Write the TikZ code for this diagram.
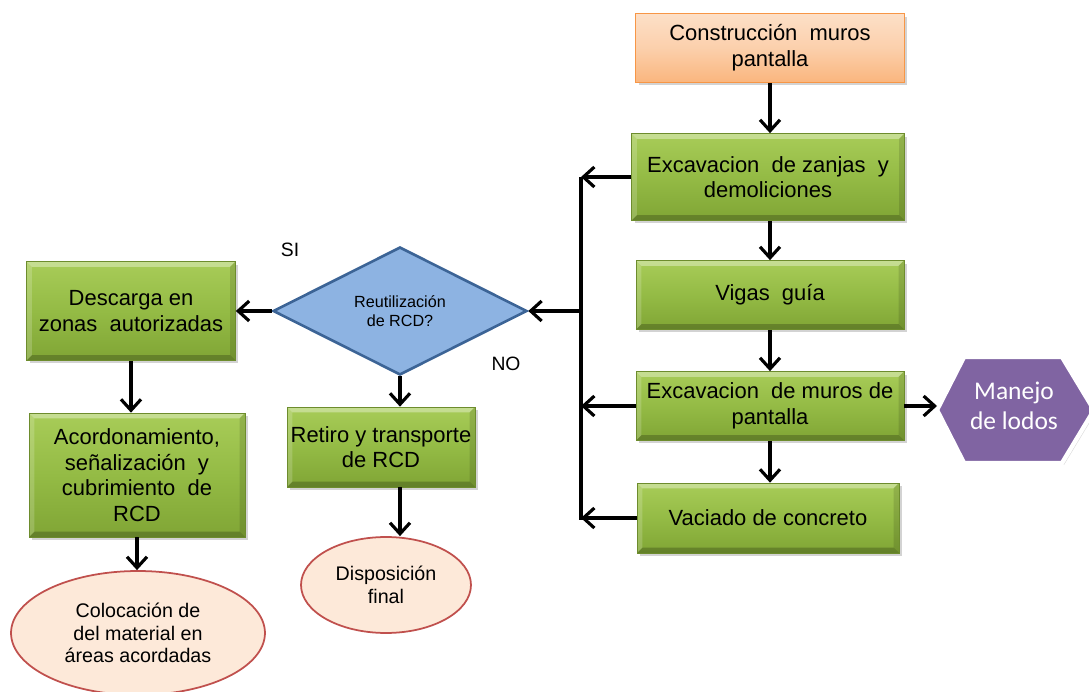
\documentclass[tikz,border=0pt]{standalone}
\usepackage{fontspec}
\setmainfont{Liberation Sans}
\newfontfamily\calibri{Carlito}
\usetikzlibrary{arrows.meta,shapes.geometric,shadows,calc}
\definecolor{verde}{HTML}{94BB45}
\definecolor{verdeclaro}{HTML}{A8CC58}
\definecolor{verdeosc}{HTML}{80A535}
\definecolor{naranja}{HTML}{F79646}
\definecolor{azul}{HTML}{8DB3E2}
\definecolor{azulosc}{HTML}{3C6496}
\definecolor{morado}{HTML}{8064A2}
\definecolor{rosa}{HTML}{FDE9D9}
\definecolor{rojo}{HTML}{C0504D}
% bisel de las cajas
\tikzset{bisel/.style={path picture={
	\path (path picture bounding box.north west) coordinate (nw) (path picture bounding box.south east) coordinate (se)
		(path picture bounding box.north east) coordinate (ne) (path picture bounding box.south west) coordinate (sw);
	\fill[white, opacity=0.35] (nw) -- (ne) -- ($(ne)+(-3pt,-3pt)$) -- ($(nw)+(3pt,-3pt)$) -- cycle;
	\fill[white, opacity=0.18] (nw) -- (sw) -- ($(sw)+(3pt,3pt)$) -- ($(nw)+(3pt,-3pt)$) -- cycle;
	\fill[black, opacity=0.22] (sw) -- (se) -- ($(se)+(-3pt,3pt)$) -- ($(sw)+(3pt,3pt)$) -- cycle;
	\fill[black, opacity=0.12] (se) -- (ne) -- ($(ne)+(-3pt,-3pt)$) -- ($(se)+(-3pt,3pt)$) -- cycle;
}}}
\begin{document}
\begin{tikzpicture}[x=0.02cm, y=-0.02cm, >={Straight Barb[length=2.2mm,width=4mm]},
	flecha/.style={->, line width=1.8pt},
	caja/.style={rectangle, draw=verdeosc!85!black, line width=0.4pt, top color=verdeclaro, bottom color=verdeosc, middle color=verde,
		bisel, drop shadow={opacity=0.35, shadow xshift=0.6mm, shadow yshift=-0.6mm},
		align=center, font=\fontsize{12.5}{14.6}\selectfont, inner sep=2pt},
	inicio/.style={caja, draw=naranja, line width=0.8pt, top color=naranja!30, bottom color=naranja!70, middle color=naranja!45, path picture={}},
	pregunta/.style={diamond, draw=azulosc, line width=1.5pt, fill=azul, inner sep=0pt, align=center,
		font=\fontsize{9.2}{10.4}\selectfont},
	fin/.style={ellipse, draw=rojo, line width=1pt, fill=rosa, inner sep=0pt, align=center,
		font=\fontsize{11.2}{12.7}\selectfont}]
	\useasboundingbox (0,0) rectangle (1089,692);
	% columna derecha
	\node[inicio, minimum width=5.38cm, minimum height=1.38cm] (cons) at (770,48) {Construcción\ \ muros\\pantalla};
	\node[caja, minimum width=5.46cm, minimum height=1.74cm] (zanjas) at (768,177) {Excavacion\ \ de zanjas\ \ y\\demoliciones};
	\node[caja, minimum width=5.36cm, minimum height=1.38cm] (vigas) at (770,295) {Vigas\ \ guía};
	\node[caja, minimum width=5.36cm, minimum height=1.38cm] (muros) at (770,406) {Excavacion\ \ de muros de\\pantalla};
	\node[caja, minimum width=5.24cm, minimum height=1.40cm] (vaciado) at (768,518) {Vaciado de concreto};
	% lodos
	\path (937,410) coordinate (hexL);
	\filldraw[morado, draw=white, line width=2.5pt, drop shadow={opacity=0.3, shadow xshift=0.4mm, shadow yshift=-0.4mm}]
		(hexL) -- (964,357) -- (1062,357) -- (1094,410) -- (1062,463) -- (964,463) -- cycle;
	\node[align=center, text=white, font=\calibri\fontsize{14.5}{17}\selectfont] (lodos) at (1014,406) {Manejo\\de lodos};
	% decision y ramas
	\node[pregunta, minimum width=5.08cm, minimum height=2.56cm] (reut) at (400,311) {Reutilización\\de RCD?};
	\node[caja, minimum width=4.18cm, minimum height=1.98cm] (desc) at (131,311) {Descarga en\\zonas\ \ autorizadas};
	\node[caja, minimum width=4.32cm, minimum height=2.48cm] (acor) at (137,475) {Acordonamiento,\\señalización\ \ y\\cubrimiento\ \ de\\RCD};
	\node[caja, minimum width=3.76cm, minimum height=1.60cm] (retiro) at (381,447) {Retiro y transporte\\de RCD};
	\node[fin, minimum width=3.40cm, minimum height=1.92cm] (disp) at (386,585) {Disposición\\final};
	\node[fin, minimum width=5.08cm, minimum height=2.48cm] (coloc) at (138,633) {Colocación de\\del material\ en\\áreas acordadas};
	\node[font=\fontsize{11}{13}\selectfont] (si) at (290,250) {SI};
	\node[font=\fontsize{11}{13}\selectfont] (no) at (506,364) {NO};
	% barra colectora
	\path (581,177) coordinate (busA) (581,520) coordinate (busB) (581,311) coordinate (busM);
	\draw[line width=1.8pt] (busA) -- (busB);
	\draw[flecha] (zanjas.west) -- (zanjas.west -| busA);
	\draw[flecha] (muros.west) -- (muros.west -| busA);
	\draw[flecha] (vaciado.west) -- (vaciado.west -| busA);
	\draw[flecha] (busM) -- (reut.east);
	% flechas verticales
	\draw[flecha] (cons.south) -- (cons.south |- zanjas.north);
	\draw[flecha] (vigas.north |- zanjas.south) -- (vigas.north);
	\draw[flecha] (vigas.south) -- (muros.north);
	\draw[flecha] (muros.south) -- (muros.south |- vaciado.north);
	\draw[flecha] (muros.east) -- (hexL |- muros.east);
	\draw[flecha] (reut.west) -- (desc.east);
	\draw[flecha] (reut.south) -- (reut.south |- retiro.north);
	\draw[flecha] (desc) -- (desc |- acor.north);
	\draw[flecha] (acor) -- (acor |- coloc.north);
	\draw[flecha] (retiro.south -| reut.south) -- (reut.south |- disp.north);
\end{tikzpicture}
\end{document}
